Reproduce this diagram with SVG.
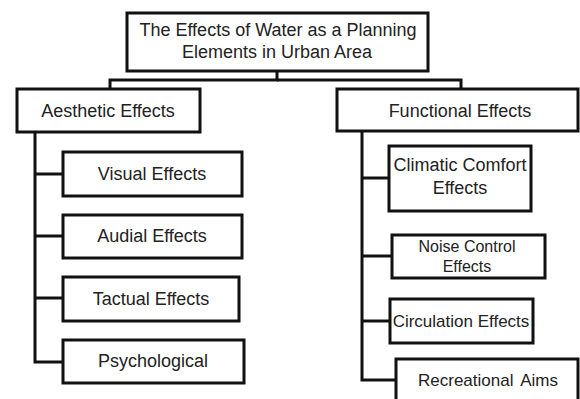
<svg xmlns="http://www.w3.org/2000/svg" width="580" height="399" viewBox="0 0 580 399">
<style>
.box{fill:#fff;stroke:#111;stroke-width:3}
.ln{fill:none;stroke:#111;stroke-width:3}
text{font-family:"Liberation Sans",Arial,sans-serif;font-size:18px;fill:#222;text-anchor:middle}
.s16{font-size:16px}
.s17{font-size:17px}
</style>
<rect width="580" height="399" fill="#fff"/>
<g id="connectors">
<polyline class="ln" points="277,71 277,80 110,80 110,89"/>
<polyline class="ln" points="277,80 461,80 461,89"/>
<polyline class="ln" points="35,132 35,362 63,362"/>
<line class="ln" x1="35" y1="174" x2="63" y2="174"/>
<line class="ln" x1="35" y1="236" x2="63" y2="236"/>
<line class="ln" x1="35" y1="298" x2="63" y2="298"/>
<polyline class="ln" points="362,131 362,380 396,380"/>
<line class="ln" x1="362" y1="178" x2="389" y2="178"/>
<line class="ln" x1="362" y1="256" x2="392" y2="256"/>
<line class="ln" x1="362" y1="321" x2="390" y2="321"/>
</g>
<g id="root">
<rect class="box" x="127" y="13" width="301" height="58"/>
<text x="278" y="36">The Effects of Water as a Planning</text>
<text x="277" y="58">Elements in Urban Area</text>
</g>
<g id="aesthetic">
<rect class="box" x="17" y="89" width="183" height="43"/>
<text x="108" y="117">Aesthetic Effects</text>
</g>
<g id="functional">
<rect class="box" x="337" y="89" width="241" height="42"/>
<text x="460" y="117">Functional Effects</text>
</g>
<g id="visual">
<rect class="box" x="63" y="152" width="179" height="44"/>
<text x="152" y="180">Visual Effects</text>
</g>
<g id="audial">
<rect class="box" x="63" y="215" width="179" height="43"/>
<text x="152" y="242">Audial Effects</text>
</g>
<g id="tactual">
<rect class="box" x="63" y="277" width="176" height="44"/>
<text x="151" y="305">Tactual Effects</text>
</g>
<g id="psychological">
<rect class="box" x="63" y="340" width="181" height="43"/>
<text x="153" y="367">Psychological</text>
</g>
<g id="climatic">
<rect class="box" x="389" y="146" width="142" height="65"/>
<text x="460" y="171">Climatic Comfort</text>
<text x="460" y="194">Effects</text>
</g>
<g id="noise">
<rect class="box" x="392" y="235" width="153" height="43"/>
<text class="s16" x="467" y="252">Noise Control</text>
<text class="s16" x="467" y="272">Effects</text>
</g>
<g id="circulation">
<rect class="box" x="390" y="299" width="143" height="44"/>
<text class="s17" x="461" y="327">Circulation Effects</text>
</g>
<g id="recreational">
<rect class="box" x="396" y="359" width="182" height="50"/>
<text class="s17" x="488" y="386" word-spacing="3">Recreational Aims</text>
</g>
</svg>
